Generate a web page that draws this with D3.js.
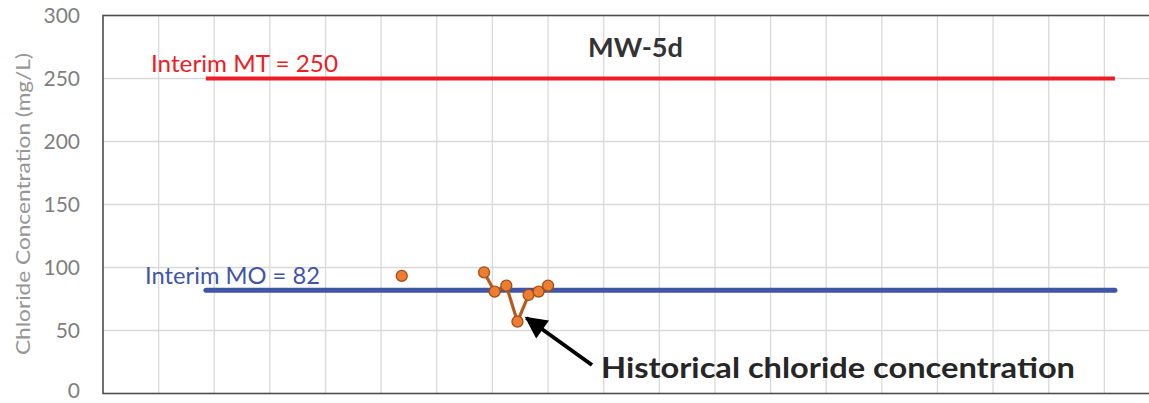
<!DOCTYPE html>
<html><head><meta charset="utf-8">
<script src="https://cdn.jsdelivr.net/npm/d3@7"></script>
<style>html,body{margin:0;padding:0;background:#fff;overflow:hidden}</style>
</head><body><svg id="c" width="1149" height="403"></svg>
<script>
// Data (x in decimal years, y in mg/L)
const isolatedDates = [2005.37];
const isolatedValues = [93.3];
const seriesDates = [2006.85, 2007.04, 2007.25, 2007.45, 2007.65, 2007.83, 2008.0];
const seriesValues = [96.2, 80.8, 85.6, 57.0, 78.2, 80.8, 85.6];
const yTicks = [0, 50, 100, 150, 200, 250, 300];
const xGridYears = d3.range(2001, 2020);
const mtLevel = 250, moLevel = 82;
const thresholdSpan = [2001.85, 2018.19];
const chartLabel = "MW-5d";
const yTitle = "Chloride Concentration (mg/L)";
const noteText = "Historical chloride concentration";

const FONT = "Lato, 'Open Sans', sans-serif";
const svg = d3.select("#c");
const L = 103, T = 15.5, B = 393.5, R = 1160;
const x = d3.scaleLinear().domain([2000, 2019]).range([L, R]);
const y = d3.scaleLinear().domain([0, 300]).range([B, T]);

// gridlines
svg.append("g").selectAll("line").data(yTicks.filter(d => d > 0 && d < 300)).join("line")
  .attr("x1", L).attr("x2", R).attr("y1", d => y(d)).attr("y2", d => y(d))
  .attr("stroke", "#d9d9d9").attr("stroke-width", 1.3);
svg.append("g").selectAll("line").data(xGridYears).join("line")
  .attr("y1", T).attr("y2", B).attr("x1", d => x(d)).attr("x2", d => x(d))
  .attr("stroke", "#d9d9d9").attr("stroke-width", 1.3);

// frame
svg.append("rect").attr("x", L).attr("y", T).attr("width", R - L).attr("height", B - T)
  .attr("fill", "none").attr("stroke", "#4d4d4d").attr("stroke-width", 1.6);

// y axis labels
const yAxis = d3.axisLeft(y).tickValues(yTicks).tickSize(0).tickPadding(23);
const ga = svg.append("g").attr("transform", `translate(${L},0)`).call(yAxis);
ga.select(".domain").remove();
ga.selectAll("text").attr("font-family", FONT).attr("font-size", 21)
  .attr("fill", "#7f7f7f").attr("dy", d => d === 0 ? "0.2em" : "0.34em");

svg.append("text").attr("transform", `translate(30,204) rotate(-90)`)
  .attr("text-anchor", "middle").attr("font-family", FONT)
  .attr("font-size", 19).attr("fill", "#969696")
  .attr("textLength", 302).attr("lengthAdjust", "spacingAndGlyphs").text(yTitle);

// threshold lines
svg.append("line").attr("x1", x(thresholdSpan[0])).attr("x2", x(thresholdSpan[1]))
  .attr("y1", y(mtLevel)).attr("y2", y(mtLevel)).attr("stroke", "#ee1c25").attr("stroke-width", 4);
svg.append("line").attr("x1", x(thresholdSpan[0])).attr("x2", x(thresholdSpan[1]))
  .attr("y1", y(moLevel)).attr("y2", y(moLevel)).attr("stroke", "#3f56a6").attr("stroke-width", 5)
  .attr("stroke-linecap", "round");

svg.append("text").attr("x", 151).attr("y", 72).attr("font-family", FONT)
  .attr("font-size", 22.5).attr("fill", "#ee1c25")
  .attr("textLength", 187).attr("lengthAdjust", "spacingAndGlyphs").text("Interim MT = " + mtLevel);
svg.append("text").attr("x", 145).attr("y", 283.5).attr("font-family", FONT)
  .attr("font-size", 22.5).attr("fill", "#3f56a6")
  .attr("textLength", 175).attr("lengthAdjust", "spacingAndGlyphs").text("Interim MO = " + moLevel);

svg.append("text").attr("x", 588).attr("y", 57).attr("font-family", FONT)
  .attr("font-weight", "bold").attr("font-size", 26).attr("fill", "#333")
  .attr("textLength", 95).attr("lengthAdjust", "spacingAndGlyphs").text(chartLabel);

// data series
const pts = seriesDates.map((d, i) => [d, seriesValues[i]]);
svg.append("path").datum(pts)
  .attr("d", d3.line().x(d => x(d[0])).y(d => y(d[1])))
  .attr("fill", "none").attr("stroke", "#b65a1e").attr("stroke-width", 3.2);
const allPts = isolatedDates.map((d, i) => [d, isolatedValues[i]]).concat(pts);
svg.append("g").selectAll("circle").data(allPts).join("circle")
  .attr("cx", d => x(d[0])).attr("cy", d => y(d[1])).attr("r", 5.5)
  .attr("fill", "#ed7d31").attr("stroke", "#a24e19").attr("stroke-width", 1.3);

// annotation arrow
const defs = svg.append("defs");
defs.append("marker").attr("id", "ah").attr("viewBox", "0 0 10 10").attr("refX", 9).attr("refY", 5)
  .attr("markerWidth", 6).attr("markerHeight", 5.5).attr("orient", "auto")
  .append("path").attr("d", "M0,0 L10,5 L0,10 Z").attr("fill", "#000");
svg.append("line").attr("x1", 592).attr("y1", 365).attr("x2", 526.5).attr("y2", 318)
  .attr("stroke", "#000").attr("stroke-width", 4).attr("marker-end", "url(#ah)");

svg.append("text").attr("x", 601).attr("y", 378).attr("font-family", FONT)
  .attr("font-weight", "bold").attr("font-size", 28.5).attr("fill", "#262626")
  .attr("textLength", 474).attr("lengthAdjust", "spacingAndGlyphs").text(noteText);
</script></body></html>
